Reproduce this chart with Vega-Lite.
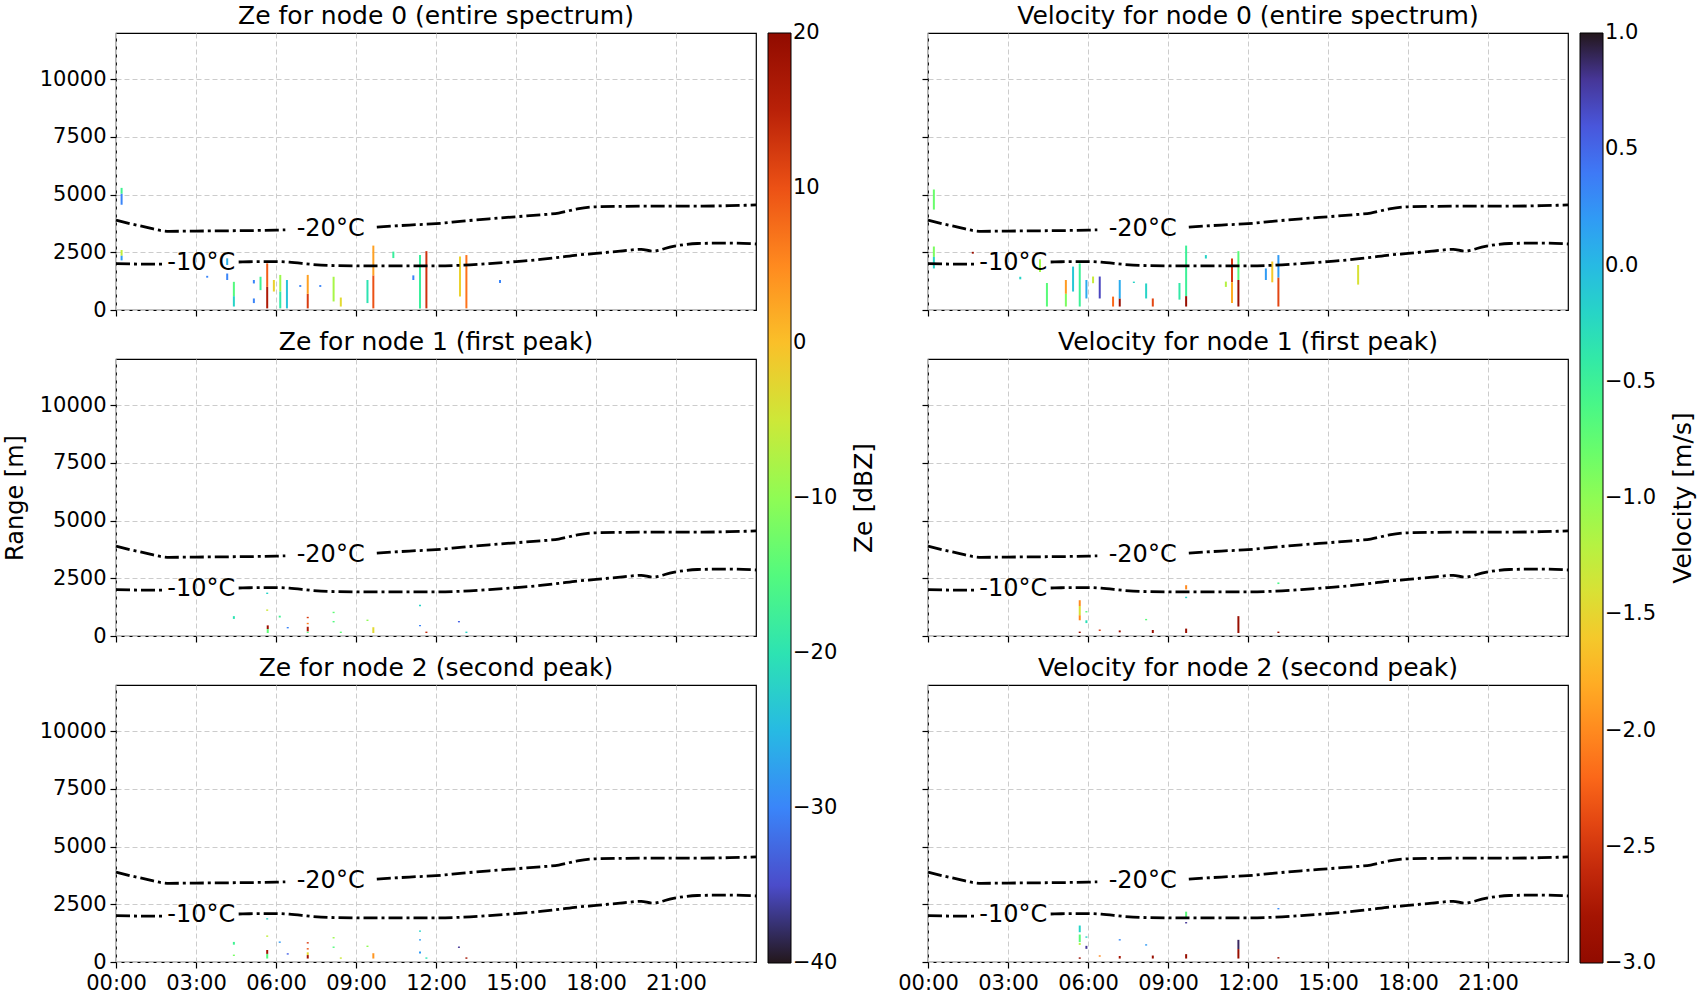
{
  "$schema": "https://vega.github.io/schema/vega-lite/v6.json",
  "description": "Ze and Doppler velocity per node with -10/-20 C isotherms",
  "padding": {"left": 2, "top": 3, "right": 5, "bottom": 5},
  "background": "white",
  "datasets": {
    "obs": [
      {"p": "z0", "t": 0.21, "lo": 4560, "hi": 5040, "v": -30},
      {"p": "z0", "t": 0.21, "lo": 5040, "hi": 5290, "v": -17},
      {"p": "z0", "t": 0.21, "lo": 2350, "hi": 2600, "v": -6},
      {"p": "z0", "t": 0.21, "lo": 2150, "hi": 2350, "v": -28},
      {"p": "z0", "t": 3.42, "lo": 1400, "hi": 1480, "v": -30},
      {"p": "z0", "t": 4.17, "lo": 1950, "hi": 2240, "v": -26},
      {"p": "z0", "t": 4.17, "lo": 1300, "hi": 1580, "v": -30},
      {"p": "z0", "t": 4.42, "lo": 600, "hi": 1220, "v": -15},
      {"p": "z0", "t": 4.42, "lo": 150, "hi": 600, "v": -22},
      {"p": "z0", "t": 5.17, "lo": 1150, "hi": 1300, "v": -30},
      {"p": "z0", "t": 5.17, "lo": 300, "hi": 500, "v": -30},
      {"p": "z0", "t": 5.42, "lo": 860, "hi": 1440, "v": -17},
      {"p": "z0", "t": 5.67, "lo": 70, "hi": 1000, "v": 16},
      {"p": "z0", "t": 5.67, "lo": 1000, "hi": 2020, "v": 9},
      {"p": "z0", "t": 5.92, "lo": 800, "hi": 1300, "v": -2},
      {"p": "z0", "t": 6.16, "lo": 800, "hi": 1520, "v": -9},
      {"p": "z0", "t": 6.16, "lo": 70, "hi": 800, "v": -19},
      {"p": "z0", "t": 6.41, "lo": 70, "hi": 1300, "v": -24},
      {"p": "z0", "t": 6.91, "lo": 1000, "hi": 1080, "v": -30},
      {"p": "z0", "t": 7.19, "lo": 70, "hi": 700, "v": 12},
      {"p": "z0", "t": 7.19, "lo": 700, "hi": 1520, "v": 3},
      {"p": "z0", "t": 7.66, "lo": 1000, "hi": 1080, "v": -30},
      {"p": "z0", "t": 8.16, "lo": 370, "hi": 1440, "v": -8},
      {"p": "z0", "t": 8.43, "lo": 150, "hi": 540, "v": -3},
      {"p": "z0", "t": 9.43, "lo": 300, "hi": 1300, "v": -20},
      {"p": "z0", "t": 9.65, "lo": 70, "hi": 1500, "v": 10},
      {"p": "z0", "t": 9.65, "lo": 1500, "hi": 2790, "v": 3},
      {"p": "z0", "t": 10.4, "lo": 2250, "hi": 2530, "v": -18},
      {"p": "z0", "t": 11.15, "lo": 1300, "hi": 1500, "v": -30},
      {"p": "z0", "t": 11.4, "lo": 70, "hi": 2380, "v": -18},
      {"p": "z0", "t": 11.64, "lo": 70, "hi": 2550, "v": 13},
      {"p": "z0", "t": 12.9, "lo": 580, "hi": 2320, "v": -2},
      {"p": "z0", "t": 13.14, "lo": 70, "hi": 2380, "v": 7},
      {"p": "z0", "t": 14.4, "lo": 1170, "hi": 1300, "v": -30},

      {"p": "z1", "t": 4.42, "lo": 740, "hi": 860, "v": -20},
      {"p": "z1", "t": 5.67, "lo": 1820, "hi": 1880, "v": -22},
      {"p": "z1", "t": 5.67, "lo": 1090, "hi": 1150, "v": -5},
      {"p": "z1", "t": 5.69, "lo": 300, "hi": 460, "v": 18},
      {"p": "z1", "t": 5.69, "lo": 130, "hi": 300, "v": -14},
      {"p": "z1", "t": 6.14, "lo": 800, "hi": 880, "v": -17},
      {"p": "z1", "t": 6.44, "lo": 330, "hi": 390, "v": -30},
      {"p": "z1", "t": 7.19, "lo": 770, "hi": 830, "v": 12},
      {"p": "z1", "t": 7.19, "lo": 510, "hi": 570, "v": 6},
      {"p": "z1", "t": 7.19, "lo": 200, "hi": 400, "v": 16},
      {"p": "z1", "t": 7.19, "lo": 130, "hi": 180, "v": -15},
      {"p": "z1", "t": 8.16, "lo": 990, "hi": 1050, "v": -14},
      {"p": "z1", "t": 8.16, "lo": 590, "hi": 650, "v": -15},
      {"p": "z1", "t": 8.43, "lo": 130, "hi": 190, "v": -14},
      {"p": "z1", "t": 9.43, "lo": 650, "hi": 710, "v": -10},
      {"p": "z1", "t": 9.65, "lo": 130, "hi": 380, "v": -3},
      {"p": "z1", "t": 11.4, "lo": 1290, "hi": 1350, "v": -22},
      {"p": "z1", "t": 11.4, "lo": 420, "hi": 480, "v": -30},
      {"p": "z1", "t": 11.64, "lo": 130, "hi": 190, "v": 14},
      {"p": "z1", "t": 12.86, "lo": 590, "hi": 650, "v": -33},
      {"p": "z1", "t": 13.14, "lo": 130, "hi": 190, "v": -22},

      {"p": "z2", "t": 4.42, "lo": 750, "hi": 870, "v": -17},
      {"p": "z2", "t": 4.42, "lo": 260, "hi": 320, "v": -12},
      {"p": "z2", "t": 5.67, "lo": 1840, "hi": 1900, "v": -22},
      {"p": "z2", "t": 5.67, "lo": 1090, "hi": 1150, "v": -6},
      {"p": "z2", "t": 5.67, "lo": 350, "hi": 520, "v": 17},
      {"p": "z2", "t": 5.67, "lo": 150, "hi": 350, "v": -15},
      {"p": "z2", "t": 6.14, "lo": 830, "hi": 890, "v": -28},
      {"p": "z2", "t": 6.44, "lo": 320, "hi": 380, "v": -33},
      {"p": "z2", "t": 7.19, "lo": 800, "hi": 860, "v": 12},
      {"p": "z2", "t": 7.19, "lo": 540, "hi": 600, "v": 10},
      {"p": "z2", "t": 7.19, "lo": 300, "hi": 420, "v": -3},
      {"p": "z2", "t": 7.19, "lo": 150, "hi": 300, "v": 17},
      {"p": "z2", "t": 8.16, "lo": 1020, "hi": 1080, "v": -9},
      {"p": "z2", "t": 8.16, "lo": 610, "hi": 670, "v": -15},
      {"p": "z2", "t": 8.43, "lo": 140, "hi": 200, "v": -5},
      {"p": "z2", "t": 9.43, "lo": 650, "hi": 710, "v": -10},
      {"p": "z2", "t": 9.65, "lo": 150, "hi": 380, "v": 4},
      {"p": "z2", "t": 11.4, "lo": 1310, "hi": 1370, "v": -22},
      {"p": "z2", "t": 11.4, "lo": 930, "hi": 990, "v": -28},
      {"p": "z2", "t": 11.4, "lo": 370, "hi": 450, "v": -28},
      {"p": "z2", "t": 11.64, "lo": 140, "hi": 200, "v": -20},
      {"p": "z2", "t": 12.86, "lo": 610, "hi": 670, "v": -37},
      {"p": "z2", "t": 13.14, "lo": 140, "hi": 200, "v": 17},

      {"p": "v0", "t": 0.22, "lo": 4350, "hi": 5220, "v": -0.8},
      {"p": "v0", "t": 0.22, "lo": 2300, "hi": 2750, "v": -0.9},
      {"p": "v0", "t": 0.22, "lo": 1800, "hi": 2300, "v": -0.2},
      {"p": "v0", "t": 1.68, "lo": 2440, "hi": 2520, "v": -2.9},
      {"p": "v0", "t": 3.46, "lo": 1330, "hi": 1440, "v": -0.2},
      {"p": "v0", "t": 4.2, "lo": 1650, "hi": 2200, "v": -1.1},
      {"p": "v0", "t": 4.46, "lo": 150, "hi": 1170, "v": -0.7},
      {"p": "v0", "t": 5.17, "lo": 700, "hi": 1300, "v": -1.9},
      {"p": "v0", "t": 5.17, "lo": 150, "hi": 700, "v": -0.9},
      {"p": "v0", "t": 5.44, "lo": 800, "hi": 1880, "v": -0.1},
      {"p": "v0", "t": 5.69, "lo": 150, "hi": 2020, "v": -0.5},
      {"p": "v0", "t": 5.94, "lo": 500, "hi": 1300, "v": 0.1},
      {"p": "v0", "t": 6.19, "lo": 1160, "hi": 1450, "v": -1.3},
      {"p": "v0", "t": 6.44, "lo": 500, "hi": 1450, "v": 0.7},
      {"p": "v0", "t": 6.94, "lo": 150, "hi": 580, "v": -2.2},
      {"p": "v0", "t": 7.19, "lo": 150, "hi": 500, "v": -2.9},
      {"p": "v0", "t": 7.19, "lo": 500, "hi": 1300, "v": 0.1},
      {"p": "v0", "t": 7.72, "lo": 1170, "hi": 1230, "v": -0.2},
      {"p": "v0", "t": 8.18, "lo": 500, "hi": 1150, "v": -0.2},
      {"p": "v0", "t": 8.43, "lo": 150, "hi": 500, "v": -2.4},
      {"p": "v0", "t": 9.43, "lo": 450, "hi": 1170, "v": -0.4},
      {"p": "v0", "t": 9.68, "lo": 600, "hi": 2790, "v": -0.5},
      {"p": "v0", "t": 9.68, "lo": 150, "hi": 600, "v": -2.9},
      {"p": "v0", "t": 10.42, "lo": 2230, "hi": 2380, "v": -0.2},
      {"p": "v0", "t": 11.17, "lo": 1000, "hi": 1230, "v": -1.2},
      {"p": "v0", "t": 11.4, "lo": 1200, "hi": 2230, "v": -2.5},
      {"p": "v0", "t": 11.4, "lo": 300, "hi": 1200, "v": -1.8},
      {"p": "v0", "t": 11.64, "lo": 1300, "hi": 2550, "v": -0.7},
      {"p": "v0", "t": 11.64, "lo": 150, "hi": 1300, "v": -2.9},
      {"p": "v0", "t": 12.67, "lo": 1300, "hi": 1800, "v": 0.2},
      {"p": "v0", "t": 12.91, "lo": 1200, "hi": 2100, "v": -1.6},
      {"p": "v0", "t": 13.14, "lo": 1400, "hi": 2380, "v": 0.2},
      {"p": "v0", "t": 13.14, "lo": 150, "hi": 1400, "v": -2.4},
      {"p": "v0", "t": 16.13, "lo": 1100, "hi": 1950, "v": -1.4},

      {"p": "v1", "t": 5.69, "lo": 1300, "hi": 1550, "v": -2.0},
      {"p": "v1", "t": 5.69, "lo": 900, "hi": 1300, "v": -1.4},
      {"p": "v1", "t": 5.69, "lo": 680, "hi": 900, "v": -2.0},
      {"p": "v1", "t": 5.69, "lo": 130, "hi": 190, "v": -2.9},
      {"p": "v1", "t": 5.94, "lo": 1020, "hi": 1080, "v": -0.7},
      {"p": "v1", "t": 5.94, "lo": 560, "hi": 680, "v": -0.3},
      {"p": "v1", "t": 6.44, "lo": 220, "hi": 280, "v": -2.5},
      {"p": "v1", "t": 7.19, "lo": 160, "hi": 240, "v": -2.9},
      {"p": "v1", "t": 8.18, "lo": 680, "hi": 740, "v": -0.7},
      {"p": "v1", "t": 8.43, "lo": 130, "hi": 260, "v": -2.9},
      {"p": "v1", "t": 9.68, "lo": 2020, "hi": 2200, "v": -2.0},
      {"p": "v1", "t": 9.68, "lo": 1640, "hi": 1700, "v": -0.2},
      {"p": "v1", "t": 9.68, "lo": 130, "hi": 320, "v": -2.9},
      {"p": "v1", "t": 11.64, "lo": 130, "hi": 860, "v": -2.9},
      {"p": "v1", "t": 13.14, "lo": 2250, "hi": 2320, "v": -0.6},
      {"p": "v1", "t": 13.14, "lo": 130, "hi": 190, "v": -2.9},

      {"p": "v2", "t": 5.69, "lo": 1290, "hi": 1580, "v": -0.2},
      {"p": "v2", "t": 5.69, "lo": 860, "hi": 1190, "v": -0.7},
      {"p": "v2", "t": 5.69, "lo": 740, "hi": 820, "v": -1.2},
      {"p": "v2", "t": 5.69, "lo": 140, "hi": 200, "v": -2.9},
      {"p": "v2", "t": 5.94, "lo": 1050, "hi": 1110, "v": -0.2},
      {"p": "v2", "t": 5.94, "lo": 570, "hi": 700, "v": 0.8},
      {"p": "v2", "t": 6.44, "lo": 230, "hi": 290, "v": -2.0},
      {"p": "v2", "t": 7.19, "lo": 150, "hi": 260, "v": -2.8},
      {"p": "v2", "t": 7.19, "lo": 930, "hi": 990, "v": 0.3},
      {"p": "v2", "t": 8.18, "lo": 710, "hi": 770, "v": 0.2},
      {"p": "v2", "t": 8.43, "lo": 150, "hi": 280, "v": -2.9},
      {"p": "v2", "t": 9.68, "lo": 1950, "hi": 2180, "v": -0.7},
      {"p": "v2", "t": 9.68, "lo": 1670, "hi": 1730, "v": 0.8},
      {"p": "v2", "t": 9.68, "lo": 150, "hi": 340, "v": -2.9},
      {"p": "v2", "t": 11.64, "lo": 560, "hi": 960, "v": 0.9},
      {"p": "v2", "t": 11.64, "lo": 150, "hi": 560, "v": -2.9},
      {"p": "v2", "t": 13.14, "lo": 2280, "hi": 2340, "v": 0.3},
      {"p": "v2", "t": 13.14, "lo": 150, "hi": 210, "v": -2.9}
    ],
    "iso": [
      {"seg": "m20a", "t": 0, "h": 3890},
      {"seg": "m20a", "t": 1, "h": 3620},
      {"seg": "m20a", "t": 2, "h": 3410},
      {"seg": "m20a", "t": 3, "h": 3420},
      {"seg": "m20a", "t": 4, "h": 3430},
      {"seg": "m20a", "t": 5, "h": 3440},
      {"seg": "m20a", "t": 6, "h": 3460},
      {"seg": "m20a", "t": 6.35, "h": 3470},
      {"seg": "m20b", "t": 9.78, "h": 3590},
      {"seg": "m20b", "t": 11, "h": 3680},
      {"seg": "m20b", "t": 12, "h": 3740},
      {"seg": "m20b", "t": 13, "h": 3850},
      {"seg": "m20b", "t": 14, "h": 3950},
      {"seg": "m20b", "t": 15, "h": 4040},
      {"seg": "m20b", "t": 16, "h": 4130},
      {"seg": "m20b", "t": 16.6, "h": 4200},
      {"seg": "m20b", "t": 17.3, "h": 4380},
      {"seg": "m20b", "t": 18, "h": 4470},
      {"seg": "m20b", "t": 19, "h": 4490},
      {"seg": "m20b", "t": 20, "h": 4500},
      {"seg": "m20b", "t": 21, "h": 4500},
      {"seg": "m20b", "t": 22, "h": 4500},
      {"seg": "m20b", "t": 23, "h": 4520},
      {"seg": "m20b", "t": 24, "h": 4550},
      {"seg": "m10a", "t": 0, "h": 2010},
      {"seg": "m10a", "t": 1, "h": 1990},
      {"seg": "m10a", "t": 1.8, "h": 1990},
      {"seg": "m10b", "t": 4.6, "h": 2080},
      {"seg": "m10b", "t": 5, "h": 2090},
      {"seg": "m10b", "t": 6, "h": 2100},
      {"seg": "m10b", "t": 6.5, "h": 2070},
      {"seg": "m10b", "t": 7.4, "h": 1970},
      {"seg": "m10b", "t": 8, "h": 1930},
      {"seg": "m10b", "t": 9, "h": 1910},
      {"seg": "m10b", "t": 10, "h": 1910},
      {"seg": "m10b", "t": 11, "h": 1910},
      {"seg": "m10b", "t": 12, "h": 1910},
      {"seg": "m10b", "t": 13, "h": 1940},
      {"seg": "m10b", "t": 14, "h": 2010},
      {"seg": "m10b", "t": 15, "h": 2100},
      {"seg": "m10b", "t": 16, "h": 2200},
      {"seg": "m10b", "t": 16.6, "h": 2280},
      {"seg": "m10b", "t": 17.3, "h": 2380},
      {"seg": "m10b", "t": 18, "h": 2450},
      {"seg": "m10b", "t": 19, "h": 2560},
      {"seg": "m10b", "t": 19.7, "h": 2630},
      {"seg": "m10b", "t": 20.1, "h": 2550},
      {"seg": "m10b", "t": 20.9, "h": 2760},
      {"seg": "m10b", "t": 21.8, "h": 2880},
      {"seg": "m10b", "t": 23, "h": 2900},
      {"seg": "m10b", "t": 24, "h": 2860}
    ],
    "isolab": [
      {"t": 8.05, "h": 3530, "lab": "-20°C"},
      {"t": 3.2, "h": 2030, "lab": "-10°C"}
    ]
  },
  "hconcat": [
    {
      "spacing": 49,
      "bounds": "flush",
      "resolve": {"scale": {"color": "shared"}},
      "vconcat": [
        {
          "title": "Ze for node 0 (entire spectrum)",
          "width": 640, "height": 277,
          "layer": [
            {
              "data": {"name": "obs"},
              "transform": [{"filter": "datum.p == 'z0'"}],
              "mark": {"type": "rule", "strokeWidth": 2},
              "encoding": {
                "x": {"field": "t", "type": "quantitative", "scale": {"domain": [0, 24], "nice": false}, "axis": {"labels": false, "title": null, "values": [0, 3, 6, 9, 12, 15, 18, 21]}},
                "y": {"field": "lo", "type": "quantitative", "scale": {"domain": [0, 12000], "nice": false}, "axis": {"title": null, "values": [0, 2500, 5000, 7500, 10000], "format": "d"}},
                "y2": {"field": "hi"},
                "color": {"field": "v", "type": "quantitative", "scale": {"scheme": "turbo", "domain": [-40, 20], "clamp": true}, "legend": {"title": "Ze [dBZ]", "values": [-40, -30, -20, -10, 0, 10, 20], "format": "d", "encode": {"title": {"update": {"angle": {"value": 270}, "baseline": {"value": "top"}}}, "labels": {"update": {"baseline": {"value": "middle"}}}}}}
              }
            },
            {
              "data": {"name": "iso"},
              "mark": {"type": "line", "color": "black", "strokeWidth": 2.8, "strokeDash": [14, 4, 3, 4], "interpolate": "monotone"},
              "encoding": {"x": {"field": "t", "type": "quantitative"}, "y": {"field": "h", "type": "quantitative"}, "detail": {"field": "seg"}}
            },
            {
              "data": {"name": "isolab"},
              "mark": {"type": "text", "fontSize": 24, "color": "black"},
              "encoding": {"x": {"field": "t", "type": "quantitative"}, "y": {"field": "h", "type": "quantitative"}, "text": {"field": "lab"}}
            }
          ]
        },
        {
          "title": "Ze for node 1 (first peak)",
          "width": 640, "height": 277,
          "layer": [
            {
              "data": {"name": "obs"},
              "transform": [{"filter": "datum.p == 'z1'"}],
              "mark": {"type": "rule", "strokeWidth": 2},
              "encoding": {
                "x": {"field": "t", "type": "quantitative", "scale": {"domain": [0, 24], "nice": false}, "axis": {"labels": false, "title": null, "values": [0, 3, 6, 9, 12, 15, 18, 21]}},
                "y": {"field": "lo", "type": "quantitative", "scale": {"domain": [0, 12000], "nice": false}, "axis": {"title": "Range [m]", "values": [0, 2500, 5000, 7500, 10000], "format": "d"}},
                "y2": {"field": "hi"},
                "color": {"field": "v", "type": "quantitative", "scale": {"scheme": "turbo", "domain": [-40, 20], "clamp": true}, "legend": {"title": "Ze [dBZ]", "values": [-40, -30, -20, -10, 0, 10, 20], "format": "d", "encode": {"title": {"update": {"angle": {"value": 270}, "baseline": {"value": "top"}}}, "labels": {"update": {"baseline": {"value": "middle"}}}}}}
              }
            },
            {
              "data": {"name": "iso"},
              "mark": {"type": "line", "color": "black", "strokeWidth": 2.8, "strokeDash": [14, 4, 3, 4], "interpolate": "monotone"},
              "encoding": {"x": {"field": "t", "type": "quantitative"}, "y": {"field": "h", "type": "quantitative"}, "detail": {"field": "seg"}}
            },
            {
              "data": {"name": "isolab"},
              "mark": {"type": "text", "fontSize": 24, "color": "black"},
              "encoding": {"x": {"field": "t", "type": "quantitative"}, "y": {"field": "h", "type": "quantitative"}, "text": {"field": "lab"}}
            }
          ]
        },
        {
          "title": "Ze for node 2 (second peak)",
          "width": 640, "height": 277,
          "layer": [
            {
              "data": {"name": "obs"},
              "transform": [{"filter": "datum.p == 'z2'"}],
              "mark": {"type": "rule", "strokeWidth": 2},
              "encoding": {
                "x": {"field": "t", "type": "quantitative", "scale": {"domain": [0, 24], "nice": false}, "axis": {"title": null, "values": [0, 3, 6, 9, 12, 15, 18, 21], "labelExpr": "(datum.value < 10 ? '0' : '') + datum.value + ':00'"}},
                "y": {"field": "lo", "type": "quantitative", "scale": {"domain": [0, 12000], "nice": false}, "axis": {"title": null, "values": [0, 2500, 5000, 7500, 10000], "format": "d"}},
                "y2": {"field": "hi"},
                "color": {"field": "v", "type": "quantitative", "scale": {"scheme": "turbo", "domain": [-40, 20], "clamp": true}, "legend": {"title": "Ze [dBZ]", "values": [-40, -30, -20, -10, 0, 10, 20], "format": "d", "encode": {"title": {"update": {"angle": {"value": 270}, "baseline": {"value": "top"}}}, "labels": {"update": {"baseline": {"value": "middle"}}}}}}
              }
            },
            {
              "data": {"name": "iso"},
              "mark": {"type": "line", "color": "black", "strokeWidth": 2.8, "strokeDash": [14, 4, 3, 4], "interpolate": "monotone"},
              "encoding": {"x": {"field": "t", "type": "quantitative"}, "y": {"field": "h", "type": "quantitative"}, "detail": {"field": "seg"}}
            },
            {
              "data": {"name": "isolab"},
              "mark": {"type": "text", "fontSize": 24, "color": "black"},
              "encoding": {"x": {"field": "t", "type": "quantitative"}, "y": {"field": "h", "type": "quantitative"}, "text": {"field": "lab"}}
            }
          ]
        }
      ]
    },
    {
      "spacing": 49,
      "bounds": "flush",
      "resolve": {"scale": {"color": "shared"}},
      "vconcat": [
        {
          "title": "Velocity for node 0 (entire spectrum)",
          "width": 640, "height": 277,
          "layer": [
            {
              "data": {"name": "obs"},
              "transform": [{"filter": "datum.p == 'v0'"}],
              "mark": {"type": "rule", "strokeWidth": 2},
              "encoding": {
                "x": {"field": "t", "type": "quantitative", "scale": {"domain": [0, 24], "nice": false}, "axis": {"labels": false, "title": null, "values": [0, 3, 6, 9, 12, 15, 18, 21]}},
                "y": {"field": "lo", "type": "quantitative", "scale": {"domain": [0, 12000], "nice": false}, "axis": {"title": null, "labels": false, "values": [0, 2500, 5000, 7500, 10000]}},
                "y2": {"field": "hi"},
                "color": {"field": "v", "type": "quantitative", "scale": {"scheme": "turbo", "reverse": true, "domain": [-3, 1], "clamp": true}, "legend": {"title": "Velocity [m/s]", "values": [-3, -2.5, -2, -1.5, -1, -0.5, 0, 0.5, 1], "format": ".1f", "encode": {"title": {"update": {"angle": {"value": 270}, "baseline": {"value": "top"}}}, "labels": {"update": {"baseline": {"value": "middle"}}}}}}
              }
            },
            {
              "data": {"name": "iso"},
              "mark": {"type": "line", "color": "black", "strokeWidth": 2.8, "strokeDash": [14, 4, 3, 4], "interpolate": "monotone"},
              "encoding": {"x": {"field": "t", "type": "quantitative"}, "y": {"field": "h", "type": "quantitative"}, "detail": {"field": "seg"}}
            },
            {
              "data": {"name": "isolab"},
              "mark": {"type": "text", "fontSize": 24, "color": "black"},
              "encoding": {"x": {"field": "t", "type": "quantitative"}, "y": {"field": "h", "type": "quantitative"}, "text": {"field": "lab"}}
            }
          ]
        },
        {
          "title": "Velocity for node 1 (first peak)",
          "width": 640, "height": 277,
          "layer": [
            {
              "data": {"name": "obs"},
              "transform": [{"filter": "datum.p == 'v1'"}],
              "mark": {"type": "rule", "strokeWidth": 2},
              "encoding": {
                "x": {"field": "t", "type": "quantitative", "scale": {"domain": [0, 24], "nice": false}, "axis": {"labels": false, "title": null, "values": [0, 3, 6, 9, 12, 15, 18, 21]}},
                "y": {"field": "lo", "type": "quantitative", "scale": {"domain": [0, 12000], "nice": false}, "axis": {"title": null, "labels": false, "values": [0, 2500, 5000, 7500, 10000]}},
                "y2": {"field": "hi"},
                "color": {"field": "v", "type": "quantitative", "scale": {"scheme": "turbo", "reverse": true, "domain": [-3, 1], "clamp": true}, "legend": {"title": "Velocity [m/s]", "values": [-3, -2.5, -2, -1.5, -1, -0.5, 0, 0.5, 1], "format": ".1f", "encode": {"title": {"update": {"angle": {"value": 270}, "baseline": {"value": "top"}}}, "labels": {"update": {"baseline": {"value": "middle"}}}}}}
              }
            },
            {
              "data": {"name": "iso"},
              "mark": {"type": "line", "color": "black", "strokeWidth": 2.8, "strokeDash": [14, 4, 3, 4], "interpolate": "monotone"},
              "encoding": {"x": {"field": "t", "type": "quantitative"}, "y": {"field": "h", "type": "quantitative"}, "detail": {"field": "seg"}}
            },
            {
              "data": {"name": "isolab"},
              "mark": {"type": "text", "fontSize": 24, "color": "black"},
              "encoding": {"x": {"field": "t", "type": "quantitative"}, "y": {"field": "h", "type": "quantitative"}, "text": {"field": "lab"}}
            }
          ]
        },
        {
          "title": "Velocity for node 2 (second peak)",
          "width": 640, "height": 277,
          "layer": [
            {
              "data": {"name": "obs"},
              "transform": [{"filter": "datum.p == 'v2'"}],
              "mark": {"type": "rule", "strokeWidth": 2},
              "encoding": {
                "x": {"field": "t", "type": "quantitative", "scale": {"domain": [0, 24], "nice": false}, "axis": {"title": null, "values": [0, 3, 6, 9, 12, 15, 18, 21], "labelExpr": "(datum.value < 10 ? '0' : '') + datum.value + ':00'"}},
                "y": {"field": "lo", "type": "quantitative", "scale": {"domain": [0, 12000], "nice": false}, "axis": {"title": null, "labels": false, "values": [0, 2500, 5000, 7500, 10000]}},
                "y2": {"field": "hi"},
                "color": {"field": "v", "type": "quantitative", "scale": {"scheme": "turbo", "reverse": true, "domain": [-3, 1], "clamp": true}, "legend": {"title": "Velocity [m/s]", "values": [-3, -2.5, -2, -1.5, -1, -0.5, 0, 0.5, 1], "format": ".1f", "encode": {"title": {"update": {"angle": {"value": 270}, "baseline": {"value": "top"}}}, "labels": {"update": {"baseline": {"value": "middle"}}}}}}
              }
            },
            {
              "data": {"name": "iso"},
              "mark": {"type": "line", "color": "black", "strokeWidth": 2.8, "strokeDash": [14, 4, 3, 4], "interpolate": "monotone"},
              "encoding": {"x": {"field": "t", "type": "quantitative"}, "y": {"field": "h", "type": "quantitative"}, "detail": {"field": "seg"}}
            },
            {
              "data": {"name": "isolab"},
              "mark": {"type": "text", "fontSize": 24, "color": "black"},
              "encoding": {"x": {"field": "t", "type": "quantitative"}, "y": {"field": "h", "type": "quantitative"}, "text": {"field": "lab"}}
            }
          ]
        }
      ]
    }
  ],
  "spacing": 19,
  "resolve": {"scale": {"color": "independent"}},
  "config": {
    "font": "DejaVu Sans",
    "view": {"stroke": "black", "strokeWidth": 1.2},
    "axis": {
      "domain": false,
      "grid": true,
      "gridColor": "#cccccc",
      "gridDash": [5, 3],
      "gridWidth": 1,
      "tickColor": "black",
      "tickSize": 6,
      "tickWidth": 1.2,
      "labelFontSize": 21,
      "labelColor": "black",
      "labelPadding": 4,
      "labelFlush": false,
      "labelOverlap": false,
      "titleFontSize": 24,
      "titleFontWeight": "normal",
      "titleColor": "black",
      "titlePadding": 12
    },
    "title": {"fontSize": 25, "fontWeight": "normal", "color": "black", "offset": 4},
    "legend": {
      "orient": "right",
      "offset": 5,
      "gradientLength": 930,
      "gradientThickness": 23,
      "gradientStrokeColor": "black",
      "gradientStrokeWidth": 1,
      "labelFontSize": 21,
      "labelColor": "black",
      "labelOffset": 15,
      "titleOrient": "right",
      "titleAnchor": "middle",
      "titleFontSize": 25,
      "titleFontWeight": "normal",
      "titleColor": "black",
      "titlePadding": 15
    }
  }
}
